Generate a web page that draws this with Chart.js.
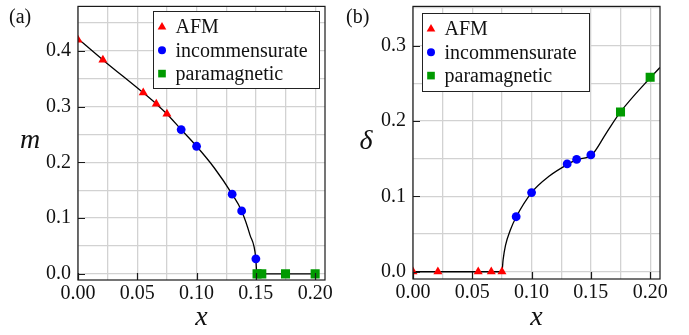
<!DOCTYPE html>
<html>
<head>
<meta charset="utf-8">
<script src="https://cdn.jsdelivr.net/npm/chart.js@4.4.1/dist/chart.umd.min.js"></script>
<style>
  html, body { margin: 0; padding: 0; background: #fff; }
  #wrap { position: relative; width: 689px; height: 335px; }
  canvas { position: absolute; top: 0; }
</style>
</head>
<body>
<div id="wrap">
  <canvas id="chartA" width="345" height="335" style="left:0"></canvas>
  <canvas id="chartB" width="344" height="335" style="left:345px"></canvas>
</div>
<script>
// --- data ---
const afmX = [0, 0.021, 0.055, 0.066, 0.075];
const afmM = [0.42, 0.384, 0.325, 0.305, 0.287];
const afmDelta = [0, 0, 0, 0, 0];

const incX = [0.087, 0.1, 0.13, 0.138, 0.15];
const incM = [0.259, 0.229, 0.143, 0.113, 0.027];
const incDelta = [0.073, 0.105, 0.143, 0.149, 0.155];

const paraXa = [0.151, 0.155, 0.175, 0.2];
const paraM = [0, 0, 0, 0];
const paraXb = [0.175, 0.2];
const paraDelta = [0.212, 0.258];

// fitted curves (black line)
const curveXa = [0, 0.021, 0.055, 0.066, 0.075, 0.087, 0.1, 0.115, 0.13, 0.138, 0.145, 0.15, 0.1508, 0.2];
const curveM = [0.422, 0.384, 0.325, 0.305, 0.287, 0.259, 0.229, 0.19, 0.143, 0.113, 0.07, 0.027, 0, 0];
const curveXb = [0, 0.075, 0.076, 0.078, 0.082, 0.087, 0.1, 0.115, 0.131, 0.1385, 0.1507, 0.163, 0.175, 0.2005, 0.2083];
const curveDelta = [0, 0, 0.016, 0.035, 0.055, 0.0726, 0.105, 0.127, 0.143, 0.149, 0.155, 0.184, 0.212, 0.258, 0.271];

const xMajor = [0, 0.05, 0.1, 0.15, 0.2];
const yMajorA = [0, 0.1, 0.2, 0.3, 0.4];
const yMajorB = [0, 0.1, 0.2, 0.3];
const legendLabels = ["AFM", "incommensurate", "paramagnetic"];

const SERIF = "'Liberation Serif', 'Times New Roman', serif";
const RED = "#ff0000", BLUE = "#0000ff", GREEN = "#009a00";
const SPINE = "#1a1a1a";

const pts = (xs, ys) => xs.map((x, i) => ({ x, y: ys[i] }));
const isMult = (v, s) => Math.abs(v / s - Math.round(v / s)) < 1e-6;

function marker(ctx, style, x, y, r, color) {
  ctx.fillStyle = color;
  ctx.beginPath();
  if (style === "triangle") {
    ctx.moveTo(x, y - r);
    ctx.lineTo(x + r * 0.866, y + r * 0.5);
    ctx.lineTo(x - r * 0.866, y + r * 0.5);
    ctx.closePath();
  } else if (style === "circle") {
    ctx.arc(x, y, r, 0, Math.PI * 2);
  } else {
    ctx.rect(x - r * 0.707, y - r * 0.707, r * 1.414, r * 1.414);
  }
  ctx.fill();
}

const decor = {
  id: "decor",
  afterDatasetsDraw(chart, args, opts) {
    const { ctx, chartArea: a, scales } = chart;
    ctx.save();
    ctx.strokeStyle = SPINE;
    ctx.lineWidth = 1.2;
    // inward major ticks
    ctx.beginPath();
    xMajor.forEach((v) => {
      const px = Math.round(scales.x.getPixelForValue(v)) + 0.5;
      ctx.moveTo(px, a.bottom);
      ctx.lineTo(px, a.bottom - 7);
    });
    opts.yMajor.forEach((v) => {
      const py = Math.round(scales.y.getPixelForValue(v)) + 0.5;
      ctx.moveTo(a.left, py);
      ctx.lineTo(a.left + 7, py);
    });
    ctx.stroke();
    ctx.strokeRect(a.left, a.top, a.right - a.left, a.bottom - a.top);

    // legend box
    const L = opts.legend;
    ctx.fillStyle = "#fff";
    ctx.fillRect(L.x, L.y, L.w, L.h);
    ctx.lineWidth = 1;
    ctx.strokeStyle = "#222";
    ctx.strokeRect(L.x + 0.5, L.y + 0.5, L.w, L.h);
    const styles = [["triangle", RED, 5], ["circle", BLUE, 4], ["rect", GREEN, 5.4]];
    ctx.font = "20px " + SERIF;
    ctx.textBaseline = "middle";
    ctx.textAlign = "left";
    legendLabels.forEach((t, i) => {
      const ry = L.y + 16 + i * 23.3;
      const [st, col, r] = styles[i];
      marker(ctx, st, L.x + 9, ry, r, col);
      ctx.fillStyle = "#111";
      ctx.fillText(t, L.x + 22.5, ry + 1);
    });

    // y title (upright) and panel label
    ctx.fillStyle = "#111";
    ctx.textAlign = "center";
    ctx.font = "italic 28px " + SERIF;
    ctx.fillText(opts.yTitle, opts.yTitleX, opts.yTitleY);
    ctx.font = "20px " + SERIF;
    ctx.textAlign = "left";
    ctx.fillText(opts.panel, opts.panelX, 18);
    ctx.restore();
  },
};

function makeChart(id, o) {
  return new Chart(document.getElementById(id), {
    type: "line",
    data: {
      datasets: [
        {
          data: o.curve,
          borderColor: "#000",
          borderWidth: 1.3,
          pointRadius: 0,
          cubicInterpolationMode: "monotone",
          order: 1,
        },
        {
          data: o.afm,
          showLine: false,
          pointStyle: "triangle",
          pointRadius: 5.2,
          pointBackgroundColor: RED,
          pointBorderWidth: 0,
          order: 0,
        },
        {
          data: o.inc,
          showLine: false,
          pointStyle: "circle",
          pointRadius: 4.4,
          pointBackgroundColor: BLUE,
          pointBorderWidth: 0,
          order: 0,
        },
        {
          data: o.para,
          showLine: false,
          pointStyle: "rect",
          pointRadius: 6.4,
          pointBackgroundColor: GREEN,
          pointBorderWidth: 0,
          order: 0,
        },
      ],
    },
    options: {
      responsive: false,
      animation: false,
      events: [],
      layout: { padding: { left: 0, top: 5, right: o.padRight, bottom: 0 } },
      plugins: {
        legend: { display: false },
        tooltip: { enabled: false },
        decor: o.decor,
      },
      scales: {
        x: {
          type: "linear",
          min: 0,
          max: 0.2083,
          afterFit: (s) => {
            s.height = o.xHeight;
            s.paddingLeft = 0;
            s.paddingRight = 0;
          },
          grid: { color: "#d2d2d2", lineWidth: 1.3, drawTicks: false },
          border: { display: false },
          ticks: {
            stepSize: 0.025,
            includeBounds: false,
            autoSkip: false,
            maxRotation: 0,
            padding: 2,
            color: "#111",
            font: { family: SERIF, size: 20 },
            callback: (v) => (isMult(v, 0.05) ? v.toFixed(2) : ""),
          },
          title: {
            display: true,
            text: "x",
            color: "#111",
            font: { family: SERIF, size: 28, style: "italic" },
            padding: { top: 0, bottom: 1 },
          },
        },
        y: {
          type: "linear",
          min: o.yMin,
          max: o.yMax,
          afterFit: (s) => {
            s.width = o.yWidth;
            s.paddingTop = 0;
            s.paddingBottom = 0;
          },
          grid: { color: "#d2d2d2", lineWidth: 1.3, drawTicks: false },
          border: { display: false },
          ticks: {
            stepSize: 0.05,
            includeBounds: false,
            autoSkip: false,
            padding: 7,
            color: "#111",
            font: { family: SERIF, size: 20 },
            callback: (v) => (isMult(v, 0.1) ? v.toFixed(1) : ""),
          },
        },
      },
    },
    plugins: [decor],
  });
}

makeChart("chartA", {
  curve: pts(curveXa, curveM),
  afm: pts(afmX, afmM),
  inc: pts(incX, incM),
  para: pts(paraXa, paraM),
  yMin: -0.011,
  yMax: 0.48,
  yWidth: 78,
  xHeight: 55,
  padRight: 20,
  decor: {
    yMajor: yMajorA,
    legend: { x: 153, y: 11, w: 166, h: 77 },
    yTitle: "m",
    yTitleX: 30,
    yTitleY: 141,
    panel: "(a)",
    panelX: 9,
  },
});

makeChart("chartB", {
  curve: pts(curveXb, curveDelta),
  afm: pts(afmX, afmDelta),
  inc: pts(incX, incDelta),
  para: pts(paraXb, paraDelta),
  yMin: -0.0096,
  yMax: 0.352,
  yWidth: 68,
  xHeight: 56,
  padRight: 29,
  decor: {
    yMajor: yMajorB,
    legend: { x: 77, y: 13, w: 167, h: 78 },
    yTitle: "δ",
    yTitleX: 21,
    yTitleY: 142,
    panel: "(b)",
    panelX: 1,
  },
});
</script>
</body>
</html>
